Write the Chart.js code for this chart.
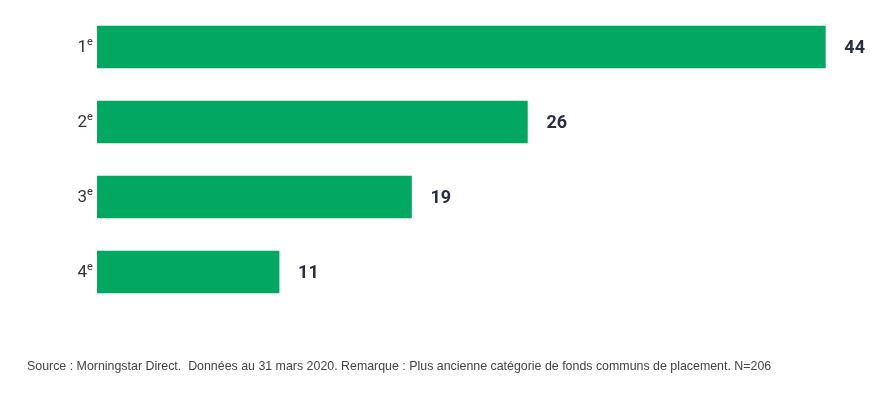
<!DOCTYPE html>
<html>
<head>
<meta charset="utf-8">
<script src="https://cdn.jsdelivr.net/npm/chart.js@4"></script>
<style>
html,body{margin:0;padding:0;background:#fff;}
#wrap{position:relative;width:884px;height:397px;}
</style>
</head>
<body>
<div id="wrap"><canvas id="c" width="884" height="397"></canvas></div>
<script>
const categories = ["1", "2", "3", "4"];
const suffixes = ["e", "e", "e", "e"];
const values = [44, 26, 19, 11];
const footnote = "Source : Morningstar Direct.  Données au 31 mars 2020. Remarque : Plus ancienne catégorie de fonds communs de placement. N=206";

const GREEN = "#00a862";

const drawPlugin = {
  id: "customText",
  afterDatasetsDraw(chart) {
    const ctx = chart.ctx;
    const meta = chart.getDatasetMeta(0);
    const ys = chart.scales.y;
    ctx.save();
    // value labels
    ctx.font = "bold 18px Roboto, 'Liberation Sans', sans-serif";
    ctx.fillStyle = "#2b2e42";
    ctx.textAlign = "left";
    ctx.textBaseline = "middle";
    meta.data.forEach((bar, i) => {
      ctx.fillText(String(values[i]), bar.x + 19, bar.y + 1);
    });
    // category labels with superscript
    categories.forEach((cat, i) => {
      const y = ys.getPixelForValue(i);
      ctx.fillStyle = "#333";
      ctx.textAlign = "right";
      ctx.textBaseline = "middle";
      ctx.font = "17px Roboto, 'Liberation Sans', sans-serif";
      ctx.fillText(cat, 87, y + 1);
      ctx.textAlign = "left";
      ctx.font = "11px Roboto, 'Liberation Sans', sans-serif";
      ctx.fillText(suffixes[i], 87, y - 5);
    });
    // footnote
    ctx.fillStyle = "#444";
    ctx.textAlign = "left";
    ctx.textBaseline = "middle";
    ctx.font = "12.4px 'Liberation Sans', Arial, sans-serif";
    ctx.fillText(footnote, 27, 367);
    ctx.restore();
  }
};

new Chart(document.getElementById("c"), {
  type: "bar",
  data: {
    labels: categories.map((c, i) => c + suffixes[i]),
    datasets: [{
      data: values,
      backgroundColor: GREEN,
      borderWidth: 0,
      barThickness: 42
    }]
  },
  options: {
    indexAxis: "y",
    responsive: false,
    animation: false,
    layout: { padding: { left: 0, right: 9, top: 9.5, bottom: 87.5 } },
    plugins: { legend: { display: false }, tooltip: { enabled: false } },
    scales: {
      x: { display: false, min: 0, max: 47 },
      y: {
        grid: { display: false },
        border: { display: false },
        ticks: { display: false },
        afterFit(scale) { scale.width = 97; }
      }
    }
  },
  plugins: [drawPlugin]
});
</script>
</body>
</html>
